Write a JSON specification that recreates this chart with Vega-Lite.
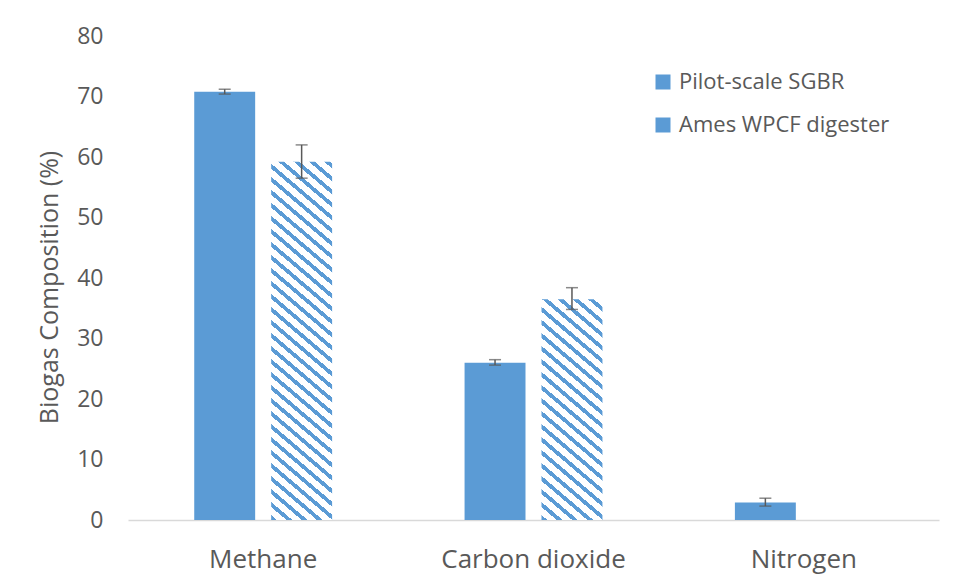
{
  "$schema": "https://vega.github.io/schema/vega-lite/v6.json",
  "autosize": {"type": "none"},
  "width": 811,
  "height": 484,
  "padding": {"left": 128, "top": 36, "right": 15, "bottom": 59},
  "background": "#FFFFFF",
  "config": {
    "font": "Open Sans",
    "view": {"stroke": null},
    "axis": {"grid": false},
    "axisY": {
      "domain": false, "ticks": false, "tickSize": 0, "labelPadding": 25,
      "labelFontSize": 23, "labelColor": "#595959", "labelFont": "Open Sans",
      "titleFontSize": 25, "titleFontWeight": "normal", "titleColor": "#595959", "titleFont": "Open Sans",
      "titleX": -70.5, "titleY": 251, "titleBaseline": "alphabetic", "titleAlign": "center", "titleAngle": -90
    },
    "axisX": {
      "domainColor": "#D9D9D9", "domainWidth": 1.5, "ticks": false, "tickSize": 0,
      "labelFontSize": 26, "labelColor": "#595959", "labelFont": "Open Sans", "labelLimit": 0,
      "labelBaseline": "alphabetic", "labelPadding": 47, "labelAngle": 0, "title": null
    }
  },
  "data": {
    "values": [
      {"gas": "Methane", "series": "Pilot-scale SGBR", "value": 70.8, "lo": 70.4, "hi": 71.2},
      {"gas": "Methane", "series": "Ames WPCF digester", "value": 59.2, "lo": 56.5, "hi": 62.0},
      {"gas": "Carbon dioxide", "series": "Pilot-scale SGBR", "value": 26.0, "lo": 25.6, "hi": 26.5},
      {"gas": "Carbon dioxide", "series": "Ames WPCF digester", "value": 36.5, "lo": 34.8, "hi": 38.4},
      {"gas": "Nitrogen", "series": "Pilot-scale SGBR", "value": 2.9, "lo": 2.3, "hi": 3.6}
    ]
  },
  "encoding": {
    "x": {"field": "gas", "type": "nominal", "sort": ["Methane", "Carbon dioxide", "Nitrogen"],
          "scale": {"domain": ["Methane", "Carbon dioxide", "Nitrogen"], "paddingInner": 0.49, "paddingOuter": 0.245}},
    "xOffset": {"field": "series", "type": "nominal",
          "scale": {"domain": ["Pilot-scale SGBR", "Ames WPCF digester"], "paddingInner": 0.208, "paddingOuter": 0}}
  },
  "layer": [
    {
      "transform": [{"filter": "datum.series === 'Pilot-scale SGBR'"}],
      "mark": {"type": "bar", "fill": "#5B9BD5"},
      "encoding": {
        "y": {"field": "value", "type": "quantitative", "title": "Biogas Composition (%)",
              "scale": {"domain": [0, 80], "nice": false},
              "axis": {"values": [0, 10, 20, 30, 40, 50, 60, 70, 80]}},
        "opacity": {"field": "series", "type": "nominal",
          "scale": {"domain": ["Pilot-scale SGBR", "Ames WPCF digester"], "range": [1, 1]},
          "legend": {
            "title": null, "orient": "none", "legendX": 524, "legendY": 35,
            "symbolType": "square", "symbolSize": 225, "symbolStrokeWidth": 0,
            "labelFontSize": 22, "labelColor": "#595959", "labelFont": "Open Sans", "labelOffset": 5, "labelLimit": 0,
            "rowPadding": 21, "padding": 0
          }
        }
      }
    },
    {
      "transform": [{"filter": "datum.series === 'Ames WPCF digester' && datum.gas === 'Methane'"}],
      "mark": {"type": "bar", "fill": {"gradient": "linear", "x1": 0, "y1": 1, "x2": 0.1623, "y2": -0.12124,
        "stops": [
          {"offset": 0, "color": "#5B9BD5"}, {"offset": 0.0122, "color": "#5B9BD5"}, {"offset": 0.0122, "color": "#FFFFFF"}, {"offset": 0.0317, "color": "#FFFFFF"},
          {"offset": 0.0317, "color": "#5B9BD5"}, {"offset": 0.0439, "color": "#5B9BD5"}, {"offset": 0.0439, "color": "#FFFFFF"}, {"offset": 0.0635, "color": "#FFFFFF"},
          {"offset": 0.0635, "color": "#5B9BD5"}, {"offset": 0.0757, "color": "#5B9BD5"}, {"offset": 0.0757, "color": "#FFFFFF"}, {"offset": 0.0952, "color": "#FFFFFF"},
          {"offset": 0.0952, "color": "#5B9BD5"}, {"offset": 0.1074, "color": "#5B9BD5"}, {"offset": 0.1074, "color": "#FFFFFF"}, {"offset": 0.1270, "color": "#FFFFFF"},
          {"offset": 0.1270, "color": "#5B9BD5"}, {"offset": 0.1392, "color": "#5B9BD5"}, {"offset": 0.1392, "color": "#FFFFFF"}, {"offset": 0.1587, "color": "#FFFFFF"},
          {"offset": 0.1587, "color": "#5B9BD5"}, {"offset": 0.1709, "color": "#5B9BD5"}, {"offset": 0.1709, "color": "#FFFFFF"}, {"offset": 0.1904, "color": "#FFFFFF"},
          {"offset": 0.1904, "color": "#5B9BD5"}, {"offset": 0.2026, "color": "#5B9BD5"}, {"offset": 0.2026, "color": "#FFFFFF"}, {"offset": 0.2222, "color": "#FFFFFF"},
          {"offset": 0.2222, "color": "#5B9BD5"}, {"offset": 0.2344, "color": "#5B9BD5"}, {"offset": 0.2344, "color": "#FFFFFF"}, {"offset": 0.2539, "color": "#FFFFFF"},
          {"offset": 0.2539, "color": "#5B9BD5"}, {"offset": 0.2661, "color": "#5B9BD5"}, {"offset": 0.2661, "color": "#FFFFFF"}, {"offset": 0.2857, "color": "#FFFFFF"},
          {"offset": 0.2857, "color": "#5B9BD5"}, {"offset": 0.2979, "color": "#5B9BD5"}, {"offset": 0.2979, "color": "#FFFFFF"}, {"offset": 0.3174, "color": "#FFFFFF"},
          {"offset": 0.3174, "color": "#5B9BD5"}, {"offset": 0.3296, "color": "#5B9BD5"}, {"offset": 0.3296, "color": "#FFFFFF"}, {"offset": 0.3491, "color": "#FFFFFF"},
          {"offset": 0.3491, "color": "#5B9BD5"}, {"offset": 0.3613, "color": "#5B9BD5"}, {"offset": 0.3613, "color": "#FFFFFF"}, {"offset": 0.3809, "color": "#FFFFFF"},
          {"offset": 0.3809, "color": "#5B9BD5"}, {"offset": 0.3931, "color": "#5B9BD5"}, {"offset": 0.3931, "color": "#FFFFFF"}, {"offset": 0.4126, "color": "#FFFFFF"},
          {"offset": 0.4126, "color": "#5B9BD5"}, {"offset": 0.4248, "color": "#5B9BD5"}, {"offset": 0.4248, "color": "#FFFFFF"}, {"offset": 0.4444, "color": "#FFFFFF"},
          {"offset": 0.4444, "color": "#5B9BD5"}, {"offset": 0.4566, "color": "#5B9BD5"}, {"offset": 0.4566, "color": "#FFFFFF"}, {"offset": 0.4761, "color": "#FFFFFF"},
          {"offset": 0.4761, "color": "#5B9BD5"}, {"offset": 0.4883, "color": "#5B9BD5"}, {"offset": 0.4883, "color": "#FFFFFF"}, {"offset": 0.5078, "color": "#FFFFFF"},
          {"offset": 0.5078, "color": "#5B9BD5"}, {"offset": 0.5200, "color": "#5B9BD5"}, {"offset": 0.5200, "color": "#FFFFFF"}, {"offset": 0.5396, "color": "#FFFFFF"},
          {"offset": 0.5396, "color": "#5B9BD5"}, {"offset": 0.5518, "color": "#5B9BD5"}, {"offset": 0.5518, "color": "#FFFFFF"}, {"offset": 0.5713, "color": "#FFFFFF"},
          {"offset": 0.5713, "color": "#5B9BD5"}, {"offset": 0.5835, "color": "#5B9BD5"}, {"offset": 0.5835, "color": "#FFFFFF"}, {"offset": 0.6031, "color": "#FFFFFF"},
          {"offset": 0.6031, "color": "#5B9BD5"}, {"offset": 0.6153, "color": "#5B9BD5"}, {"offset": 0.6153, "color": "#FFFFFF"}, {"offset": 0.6348, "color": "#FFFFFF"},
          {"offset": 0.6348, "color": "#5B9BD5"}, {"offset": 0.6470, "color": "#5B9BD5"}, {"offset": 0.6470, "color": "#FFFFFF"}, {"offset": 0.6665, "color": "#FFFFFF"},
          {"offset": 0.6665, "color": "#5B9BD5"}, {"offset": 0.6787, "color": "#5B9BD5"}, {"offset": 0.6787, "color": "#FFFFFF"}, {"offset": 0.6983, "color": "#FFFFFF"},
          {"offset": 0.6983, "color": "#5B9BD5"}, {"offset": 0.7105, "color": "#5B9BD5"}, {"offset": 0.7105, "color": "#FFFFFF"}, {"offset": 0.7300, "color": "#FFFFFF"},
          {"offset": 0.7300, "color": "#5B9BD5"}, {"offset": 0.7422, "color": "#5B9BD5"}, {"offset": 0.7422, "color": "#FFFFFF"}, {"offset": 0.7618, "color": "#FFFFFF"},
          {"offset": 0.7618, "color": "#5B9BD5"}, {"offset": 0.7740, "color": "#5B9BD5"}, {"offset": 0.7740, "color": "#FFFFFF"}, {"offset": 0.7935, "color": "#FFFFFF"},
          {"offset": 0.7935, "color": "#5B9BD5"}, {"offset": 0.8057, "color": "#5B9BD5"}, {"offset": 0.8057, "color": "#FFFFFF"}, {"offset": 0.8252, "color": "#FFFFFF"},
          {"offset": 0.8252, "color": "#5B9BD5"}, {"offset": 0.8374, "color": "#5B9BD5"}, {"offset": 0.8374, "color": "#FFFFFF"}, {"offset": 0.8570, "color": "#FFFFFF"},
          {"offset": 0.8570, "color": "#5B9BD5"}, {"offset": 0.8692, "color": "#5B9BD5"}, {"offset": 0.8692, "color": "#FFFFFF"}, {"offset": 0.8887, "color": "#FFFFFF"},
          {"offset": 0.8887, "color": "#5B9BD5"}, {"offset": 0.9009, "color": "#5B9BD5"}, {"offset": 0.9009, "color": "#FFFFFF"}, {"offset": 0.9205, "color": "#FFFFFF"},
          {"offset": 0.9205, "color": "#5B9BD5"}, {"offset": 0.9327, "color": "#5B9BD5"}, {"offset": 0.9327, "color": "#FFFFFF"}, {"offset": 0.9522, "color": "#FFFFFF"},
          {"offset": 0.9522, "color": "#5B9BD5"}, {"offset": 0.9644, "color": "#5B9BD5"}, {"offset": 0.9644, "color": "#FFFFFF"}, {"offset": 0.9839, "color": "#FFFFFF"},
          {"offset": 0.9839, "color": "#5B9BD5"}, {"offset": 0.9961, "color": "#5B9BD5"}, {"offset": 0.9961, "color": "#FFFFFF"}, {"offset": 1, "color": "#FFFFFF"}
        ]}},
      "encoding": {
        "y": {"field": "value", "type": "quantitative", "title": "Biogas Composition (%)"}
      }
    },
    {
      "transform": [{"filter": "datum.series === 'Ames WPCF digester' && datum.gas === 'Carbon dioxide'"}],
      "mark": {"type": "bar", "fill": {"gradient": "linear", "x1": 0, "y1": 1, "x2": 0.27474, "y2": -0.17026,
        "stops": [
          {"offset": 0, "color": "#5B9BD5"}, {"offset": 0.0184, "color": "#5B9BD5"}, {"offset": 0.0184, "color": "#FFFFFF"}, {"offset": 0.0477, "color": "#FFFFFF"},
          {"offset": 0.0477, "color": "#5B9BD5"}, {"offset": 0.0661, "color": "#5B9BD5"}, {"offset": 0.0661, "color": "#FFFFFF"}, {"offset": 0.0955, "color": "#FFFFFF"},
          {"offset": 0.0955, "color": "#5B9BD5"}, {"offset": 0.1138, "color": "#5B9BD5"}, {"offset": 0.1138, "color": "#FFFFFF"}, {"offset": 0.1432, "color": "#FFFFFF"},
          {"offset": 0.1432, "color": "#5B9BD5"}, {"offset": 0.1616, "color": "#5B9BD5"}, {"offset": 0.1616, "color": "#FFFFFF"}, {"offset": 0.1909, "color": "#FFFFFF"},
          {"offset": 0.1909, "color": "#5B9BD5"}, {"offset": 0.2093, "color": "#5B9BD5"}, {"offset": 0.2093, "color": "#FFFFFF"}, {"offset": 0.2386, "color": "#FFFFFF"},
          {"offset": 0.2386, "color": "#5B9BD5"}, {"offset": 0.2570, "color": "#5B9BD5"}, {"offset": 0.2570, "color": "#FFFFFF"}, {"offset": 0.2864, "color": "#FFFFFF"},
          {"offset": 0.2864, "color": "#5B9BD5"}, {"offset": 0.3047, "color": "#5B9BD5"}, {"offset": 0.3047, "color": "#FFFFFF"}, {"offset": 0.3341, "color": "#FFFFFF"},
          {"offset": 0.3341, "color": "#5B9BD5"}, {"offset": 0.3525, "color": "#5B9BD5"}, {"offset": 0.3525, "color": "#FFFFFF"}, {"offset": 0.3818, "color": "#FFFFFF"},
          {"offset": 0.3818, "color": "#5B9BD5"}, {"offset": 0.4002, "color": "#5B9BD5"}, {"offset": 0.4002, "color": "#FFFFFF"}, {"offset": 0.4295, "color": "#FFFFFF"},
          {"offset": 0.4295, "color": "#5B9BD5"}, {"offset": 0.4479, "color": "#5B9BD5"}, {"offset": 0.4479, "color": "#FFFFFF"}, {"offset": 0.4773, "color": "#FFFFFF"},
          {"offset": 0.4773, "color": "#5B9BD5"}, {"offset": 0.4956, "color": "#5B9BD5"}, {"offset": 0.4956, "color": "#FFFFFF"}, {"offset": 0.5250, "color": "#FFFFFF"},
          {"offset": 0.5250, "color": "#5B9BD5"}, {"offset": 0.5434, "color": "#5B9BD5"}, {"offset": 0.5434, "color": "#FFFFFF"}, {"offset": 0.5727, "color": "#FFFFFF"},
          {"offset": 0.5727, "color": "#5B9BD5"}, {"offset": 0.5911, "color": "#5B9BD5"}, {"offset": 0.5911, "color": "#FFFFFF"}, {"offset": 0.6204, "color": "#FFFFFF"},
          {"offset": 0.6204, "color": "#5B9BD5"}, {"offset": 0.6388, "color": "#5B9BD5"}, {"offset": 0.6388, "color": "#FFFFFF"}, {"offset": 0.6682, "color": "#FFFFFF"},
          {"offset": 0.6682, "color": "#5B9BD5"}, {"offset": 0.6865, "color": "#5B9BD5"}, {"offset": 0.6865, "color": "#FFFFFF"}, {"offset": 0.7159, "color": "#FFFFFF"},
          {"offset": 0.7159, "color": "#5B9BD5"}, {"offset": 0.7343, "color": "#5B9BD5"}, {"offset": 0.7343, "color": "#FFFFFF"}, {"offset": 0.7636, "color": "#FFFFFF"},
          {"offset": 0.7636, "color": "#5B9BD5"}, {"offset": 0.7820, "color": "#5B9BD5"}, {"offset": 0.7820, "color": "#FFFFFF"}, {"offset": 0.8113, "color": "#FFFFFF"},
          {"offset": 0.8113, "color": "#5B9BD5"}, {"offset": 0.8297, "color": "#5B9BD5"}, {"offset": 0.8297, "color": "#FFFFFF"}, {"offset": 0.8591, "color": "#FFFFFF"},
          {"offset": 0.8591, "color": "#5B9BD5"}, {"offset": 0.8774, "color": "#5B9BD5"}, {"offset": 0.8774, "color": "#FFFFFF"}, {"offset": 0.9068, "color": "#FFFFFF"},
          {"offset": 0.9068, "color": "#5B9BD5"}, {"offset": 0.9252, "color": "#5B9BD5"}, {"offset": 0.9252, "color": "#FFFFFF"}, {"offset": 0.9545, "color": "#FFFFFF"},
          {"offset": 0.9545, "color": "#5B9BD5"}, {"offset": 0.9729, "color": "#5B9BD5"}, {"offset": 0.9729, "color": "#FFFFFF"}, {"offset": 1, "color": "#FFFFFF"}
        ]}},
      "encoding": {
        "y": {"field": "value", "type": "quantitative", "title": "Biogas Composition (%)"}
      }
    },
    {
      "mark": {"type": "rule", "color": "#595959", "strokeWidth": 1.5},
      "encoding": {
        "y": {"field": "lo", "type": "quantitative", "title": "Biogas Composition (%)"},
        "y2": {"field": "hi"}
      }
    },
    {
      "mark": {"type": "tick", "color": "#595959", "size": 12, "thickness": 1.5},
      "encoding": {
        "y": {"field": "lo", "type": "quantitative", "title": "Biogas Composition (%)"}
      }
    },
    {
      "mark": {"type": "tick", "color": "#595959", "size": 12, "thickness": 1.5},
      "encoding": {
        "y": {"field": "hi", "type": "quantitative", "title": "Biogas Composition (%)"}
      }
    }
  ]
}
